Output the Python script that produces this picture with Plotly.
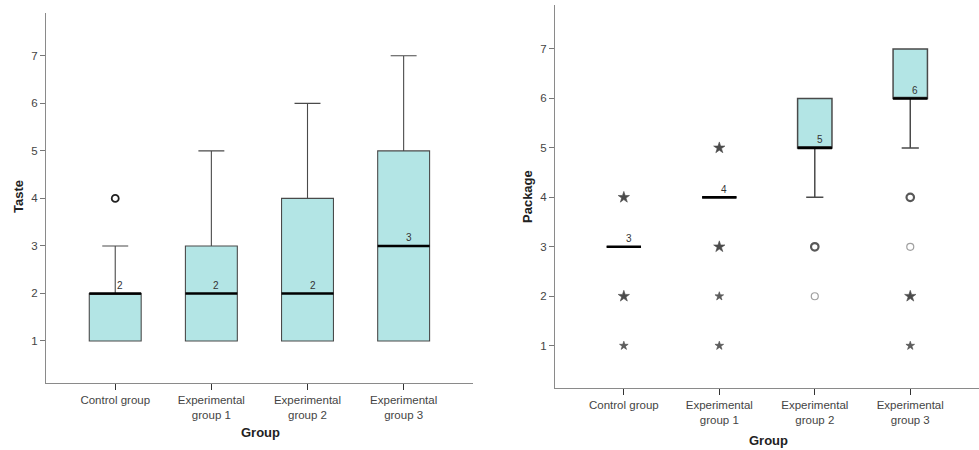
import plotly.graph_objects as go

groups = ["Control group", "Experimental<br>group 1", "Experimental<br>group 2", "Experimental<br>group 3"]
pos = [0, 1, 2, 3]

# Taste
taste_q1 = [1, 1, 1, 1]
taste_med = [2, 2, 2, 3]
taste_q3 = [2, 3, 4, 5]
taste_lo = [1, 1, 1, 1]
taste_hi = [3, 5, 6, 7]
taste_out_x = [0]
taste_out_y = [4]

# Package
pkg_q1 = [3, 4, 5, 6]
pkg_med = [3, 4, 5, 6]
pkg_q3 = [3, 4, 6, 7]
pkg_lo = [3, 4, 4, 5]
pkg_hi = [3, 4, 6, 7]
# outliers (circles) and extremes (stars); bold = several cases
pkg_circ_x = [2, 2, 3, 3]
pkg_circ_y = [3, 2, 4, 3]
pkg_circ_bold = [True, False, True, False]
pkg_star_x = [0, 0, 0, 1, 1, 1, 1, 3, 3]
pkg_star_y = [4, 2, 1, 5, 3, 2, 1, 2, 1]
pkg_star_bold = [True, True, False, True, True, False, False, True, False]

FILL = "#B3E5E5"
FONT = "Liberation Sans, Arial, sans-serif"

fig = go.Figure()

def add_panel(xa, ya, q1, med, q3, lo, hi, width, lw):
    fig.add_trace(go.Box(
        x=pos, q1=q1, median=med, q3=q3, lowerfence=lo, upperfence=hi,
        width=width, whiskerwidth=0.5, fillcolor=FILL,
        line=dict(color="#4a4a4a", width=lw), boxpoints=False,
        xaxis=xa, yaxis=ya, showlegend=False, hoverinfo="skip"))
    mx, my = [], []
    for p, m in zip(pos, med):
        mx += [p - width / 2, p + width / 2, None]
        my += [m, m, None]
    fig.add_trace(go.Scatter(x=mx, y=my, mode="lines",
                             line=dict(color="black", width=2.6),
                             xaxis=xa, yaxis=ya, showlegend=False, hoverinfo="skip"))
    for p, m in zip(pos, med):
        fig.add_annotation(x=p, y=m, xref=xa, yref=ya, text=str(m), showarrow=False,
                           xanchor="center", yanchor="middle",
                           xshift=5, yshift=8, font=dict(size=10, color="#333", family=FONT))

add_panel("x", "y", taste_q1, taste_med, taste_q3, taste_lo, taste_hi, 0.54, 1.1)
fig.add_trace(go.Scatter(x=taste_out_x, y=taste_out_y, mode="markers",
                         marker=dict(symbol="circle-open", size=7, color="#222", line=dict(width=1.8)),
                         xaxis="x", yaxis="y", showlegend=False, hoverinfo="skip"))

add_panel("x2", "y2", pkg_q1, pkg_med, pkg_q3, pkg_lo, pkg_hi, 0.36, 1.5)
fig.add_trace(go.Scatter(
    x=pkg_circ_x, y=pkg_circ_y, mode="markers",
    marker=dict(symbol="circle-open", size=[7.5 if b else 7 for b in pkg_circ_bold],
                color=["#111" if b else "#777" for b in pkg_circ_bold],
                line=dict(width=[2.2 if b else 1.2 for b in pkg_circ_bold])),
    xaxis="x2", yaxis="y2", showlegend=False, hoverinfo="skip"))
fig.add_trace(go.Scatter(
    x=pkg_star_x, y=pkg_star_y, mode="markers",
    marker=dict(symbol="star", size=[8.5 if b else 6.5 for b in pkg_star_bold],
                color=["#000000" if b else "#1a1a1a" for b in pkg_star_bold],
                line=dict(width=0.6, color="#000000")),
    xaxis="x2", yaxis="y2", showlegend=False, hoverinfo="skip"))

xcommon = dict(range=[-0.72, 3.72], tickvals=pos, ticktext=groups, showgrid=False, zeroline=False,
               showline=True, linecolor="#8a8a8a", linewidth=1.2, ticks="outside", ticklen=6,
               tickcolor="#333", tickwidth=1.4, tickfont=dict(size=11.5, color="#444", family=FONT))
ycommon = dict(tickvals=[1, 2, 3, 4, 5, 6, 7], showgrid=False, zeroline=False,
               showline=True, linecolor="#8a8a8a", linewidth=1.2, ticks="outside", ticklen=5,
               tickcolor="#777", tickfont=dict(size=11.5, color="#444", family=FONT))

fig.update_layout(
    width=979, height=450, margin=dict(l=0, r=0, t=0, b=0),
    paper_bgcolor="white", plot_bgcolor="white",
    xaxis=dict(domain=[0.047, 0.483], anchor="y", **xcommon),
    yaxis=dict(domain=[0.149, 0.971], anchor="x", range=[0.117, 7.9], **ycommon),
    xaxis2=dict(domain=[0.567, 1.0], anchor="y2", **xcommon),
    yaxis2=dict(domain=[0.137, 0.989], anchor="x2", range=[0.138, 7.89], **ycommon),
)

tfont = dict(size=13, color="#222", family=FONT)
for tx, ty, txt, ang in [(18, 197, "Taste", -90), (260, 432, "Group", 0),
                         (527, 197, "Package", -90), (768, 440, "Group", 0)]:
    fig.add_annotation(x=tx / 979, y=1 - ty / 450, xref="paper", yref="paper",
                       text="<b>" + txt + "</b>", textangle=ang, showarrow=False,
                       xanchor="center", yanchor="middle", font=tfont)

fig.write_html("out.html")
